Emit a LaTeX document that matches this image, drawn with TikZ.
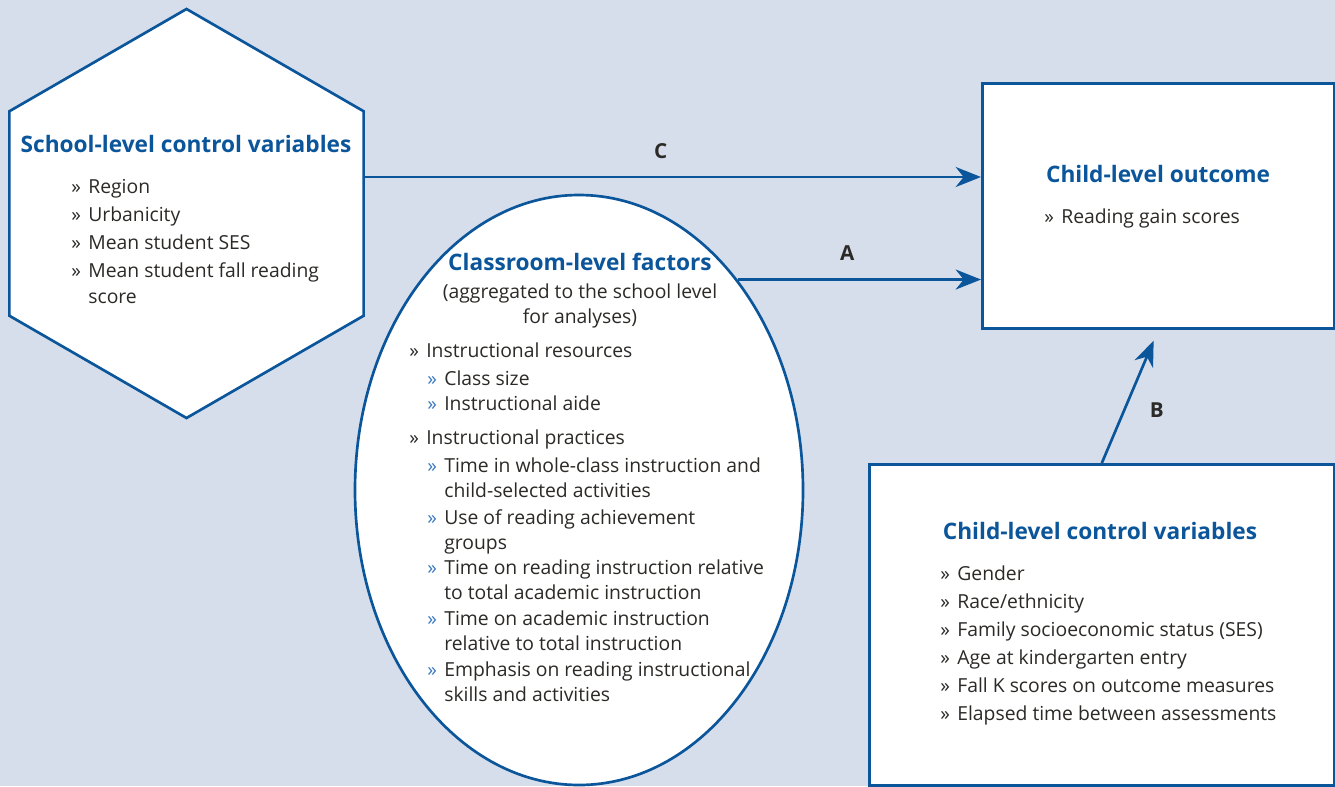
\documentclass[tikz,border=0pt]{standalone}
\usepackage{fontspec}
\setmainfont{Open Sans}
\usepackage{tikz}
\usetikzlibrary{%
	arrows.meta,%
	shapes.geometric%
}
\definecolor{Sky}{HTML}{D6DEEC}
\definecolor{Ink}{HTML}{0B559B}
\definecolor{SubInk}{HTML}{3C7BC0}
\definecolor{Char}{HTML}{2C2A27}

\newcommand{\bul}{\makebox[12.75pt][l]{»}}
\newcommand{\sbul}{\hspace*{13.5pt}\makebox[12.75pt][l]{\textcolor{SubInk}{»}}}
\newcommand{\hang}{\hspace*{12.75pt}}
\newcommand{\shang}{\hspace*{26.25pt}}

\tikzset{
	panel/.style={draw=Ink,line width=2pt,fill=white},
	txt/.style={text=Char,font=\fontsize{14.5pt}{21pt}\selectfont,align=left,inner sep=0pt},
	note/.style={text=Char,font=\fontsize{14.5pt}{18.75pt}\selectfont,align=center,inner sep=0pt},
	ttl/.style={text=Ink,font=\fontsize{17pt}{20pt}\selectfont\bfseries,inner sep=0pt},
	lbl/.style={text=Char,font=\fontsize{15.5pt}{18pt}\selectfont\bfseries,inner sep=0pt}
}

\begin{document}
\begin{tikzpicture}[x=0.75pt,y=-0.75pt,line width=2pt,>={Stealth[length=19pt,width=15pt,inset=6pt]}]
% Background
\fill [Sky] (0,0) rectangle (1335,786);
\useasboundingbox (0,0) rectangle (1335,786);
% School level
\node [panel,regular polygon,regular polygon sides=6,shape border rotate=30,minimum size=306.75pt] (school) at (186.5,213.5) {};
\node [ttl] (schoolttl) at (186,144) {School-level control variables};
\node [txt,anchor=north west] (schoollist) at (70,178) {\bul Region\\ \bul Urbanicity\\ \bul Mean student SES\\ \bul Mean student fall reading\\[-1.5pt] \hang score};
% Outcome
\node [panel,anchor=north west,minimum width=264pt,minimum height=183.75pt] (out) at (981,82) {};
\node [ttl] (outttl) at (1158,174) {Child-level outcome};
\node [txt,anchor=north west] (outlist) at (1043,207) {\bul Reading gain scores};
% Classroom level
\node [panel,ellipse,minimum width=336pt,minimum height=442.5pt] (cls) at (579,490) {};
\node [ttl] (clsttl) at (580,262) {Classroom-level factors};
\node [note,anchor=north] (clsnote) at (580,282) {(aggregated to the school level\\ for analyses)};
\node [txt,anchor=north west] (clslist) at (408,341) {\bul Instructional resources\\
	\sbul Class size\\[-2.25pt]
	\sbul Instructional aide\\[4.5pt]
	\bul Instructional practices\\
	\sbul Time in whole-class instruction and\\[-2.25pt]
	\shang child-selected activities\\[-0.75pt]
	\sbul Use of reading achievement\\[-2.25pt]
	\shang groups\\[-2.25pt]
	\sbul Time on reading instruction relative\\[-2.25pt]
	\shang to total academic instruction\\[-1.5pt]
	\sbul Time on academic instruction\\[-2.25pt]
	\shang relative to total instruction\\[-1.5pt]
	\sbul Emphasis on reading instructional\\[-2.25pt]
	\shang skills and activities};
% Child level
\node [panel,anchor=north west,minimum width=348.75pt,minimum height=240.75pt] (ctl) at (868,463) {};
\node [ttl] (ctlttl) at (1100,531) {Child-level control variables};
\node [txt,anchor=north west] (ctllist) at (939,564) {\bul Gender\\ \bul Race/ethnicity\\ \bul Family socioeconomic status (SES)\\ \bul Age at kindergarten entry\\ \bul Fall K scores on outcome measures\\ \bul Elapsed time between assessments};
% Paths
\coordinate (cY) at (0,177);
\draw [->,Ink] (school.east |- cY) -- (out.west |- cY) node [lbl,pos=0.48,above=13pt] (labC) {C};
\draw [->,Ink] (cls.53.7) -- (cls.53.7 -| out.west) node [lbl,pos=0.45,above=13pt] (labA) {A};
\draw [->,Ink,shorten >=9pt] (ctl.north) -- (out.south) node [lbl,pos=0.4,right=18pt] (labB) {B};
\end{tikzpicture}
\end{document}
